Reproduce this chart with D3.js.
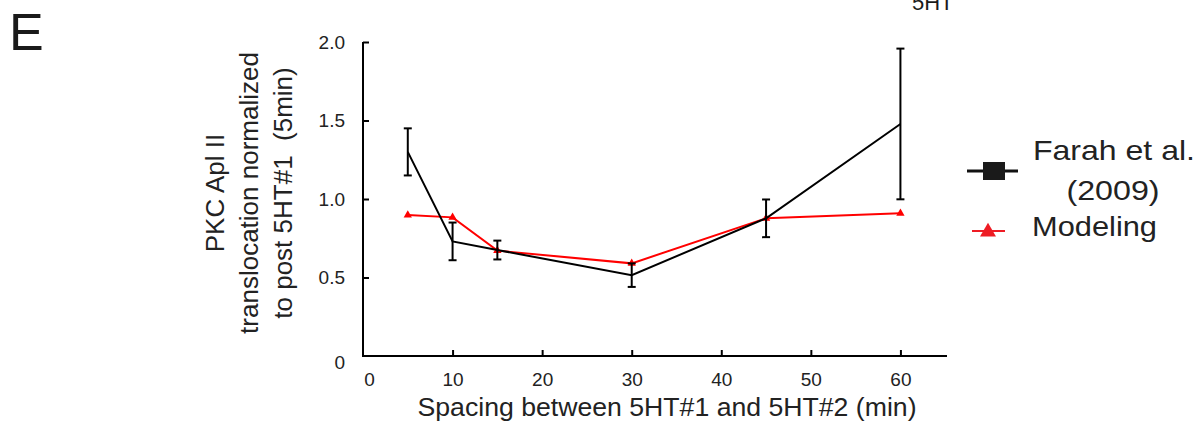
<!DOCTYPE html>
<html>
<head>
<meta charset="utf-8">
<script src="https://cdn.jsdelivr.net/npm/d3@7"></script>
<style>
  body { margin: 0; background: #fff; }
  svg { font-family: "Liberation Sans", Arial, sans-serif; }
</style>
</head>
<body>
<svg id="chart" width="1199" height="425"></svg>
<script>
// spacing between the two 5HT pulses (min)
var spacing = [5, 10, 15, 30, 45, 60];
// Farah et al. (2009) experimental means and error
var farahMean = [1.30, 0.73, 0.675, 0.515, 0.877, 1.478];
var farahErr = [0.15, 0.12, 0.06, 0.075, 0.12, 0.48];
// model output
var modelVals = [0.898, 0.883, 0.671, 0.590, 0.877, 0.909];
var xTicks = [0, 10, 20, 30, 40, 50, 60];
var yTicks = [0, 0.5, 1.0, 1.5, 2.0];

var svg = d3.select("#chart");
var x = d3.scaleLinear().domain([0, 65.2]).range([363, 947]);
var y = d3.scaleLinear().domain([0, 2]).range([356, 42]);

var farah = spacing.map(function(s, i) { return {x: s, m: farahMean[i], e: farahErr[i]}; });
var model = spacing.map(function(s, i) { return {x: s, v: modelVals[i]}; });

// panel letter
svg.append("text").attr("x", 9).attr("y", 50)
  .style("font-size", "52px").attr("fill", "#1a1a1a").text("E");
// clipped title of the neighbouring panel
svg.append("text").attr("x", 912).attr("y", 10)
  .style("font-size", "22px").attr("fill", "#1a1a1a").text("5HT");

// axes
var xaxis = svg.append("g").attr("transform", "translate(0,356)")
  .call(d3.axisBottom(x).tickValues(xTicks).tickSizeInner(-6).tickSizeOuter(0).tickPadding(17)
    .tickFormat(d3.format("d")));
var yaxis = svg.append("g").attr("transform", "translate(363,0)")
  .call(d3.axisLeft(y).tickValues(yTicks).tickSizeInner(-6).tickSizeOuter(0).tickPadding(18)
    .tickFormat(function(d) { return d == 0 ? "0" : d3.format(".1f")(d); }));

[xaxis, yaxis].forEach(function(a) {
  a.attr("font-size", null).attr("font-family", null);
  a.select(".domain").attr("stroke", "#000").attr("stroke-width", 2);
  a.selectAll(".tick line").attr("stroke", "#000").attr("stroke-width", 2);
  a.selectAll(".tick text").style("font-size", "19px").attr("fill", "#222");
});
// no tick mark at the corner
xaxis.selectAll(".tick").filter(function(d) { return d == 0; }).select("line").remove();
yaxis.selectAll(".tick").filter(function(d) { return d == 0; }).select("line").remove();
xaxis.selectAll(".tick").filter(function(d) { return d == 0; }).select("text").attr("dx", 6);
yaxis.selectAll(".tick").filter(function(d) { return d == 0; }).select("text").attr("dy", "0.64em");
yaxis.select(".domain").attr("d", "M0," + y(2) + "V" + (y(0) + 1));
xaxis.select(".domain").attr("d", "M" + (x(0) - 1) + ",0H" + x(65.2));

// axis titles
svg.append("text").attr("x", 667).attr("y", 416).attr("text-anchor", "middle")
  .style("font-size", "25px").attr("fill", "#222")
  .attr("textLength", 499).attr("lengthAdjust", "spacingAndGlyphs")
  .text("Spacing between 5HT#1 and 5HT#2 (min)");

var yLines = ["PKC Apl II", "translocation normalized", "to post 5HT#1  (5min)"];
var yt = svg.append("text").attr("transform", "translate(0,193) rotate(-90)")
  .attr("text-anchor", "middle").style("font-size", "26px").attr("fill", "#222")
  .style("white-space", "pre");
yLines.forEach(function(t, i) {
  yt.append("tspan").attr("x", 0).attr("y", 224 + i * 34).text(t);
});

// model line (red)
svg.append("path").datum(model)
  .attr("d", d3.line().x(function(d) { return x(d.x); }).y(function(d) { return y(d.v); }))
  .attr("fill", "none").attr("stroke", "#ff0000").attr("stroke-width", 2);
svg.selectAll(".mark").data(model).enter().append("path")
  .attr("class", "mark")
  .attr("transform", function(d) { return "translate(" + x(d.x) + "," + y(d.v) + ")"; })
  .attr("d", d3.symbol().type(d3.symbolTriangle).size(30))
  .attr("fill", "#ff0000");

// experimental line (black) with error bars
svg.append("path").datum(farah)
  .attr("d", d3.line().x(function(d) { return x(d.x); }).y(function(d) { return y(d.m); }))
  .attr("fill", "none").attr("stroke", "#000").attr("stroke-width", 2);
var eb = svg.selectAll(".err").data(farah).enter().append("g").attr("class", "err")
  .attr("stroke", "#000").attr("stroke-width", 2);
eb.append("line")
  .attr("x1", function(d) { return x(d.x); }).attr("x2", function(d) { return x(d.x); })
  .attr("y1", function(d) { return y(d.m + d.e); }).attr("y2", function(d) { return y(d.m - d.e); });
[1, -1].forEach(function(s) {
  eb.append("line")
    .attr("x1", function(d) { return x(d.x) - 4; }).attr("x2", function(d) { return x(d.x) + 4; })
    .attr("y1", function(d) { return y(d.m + s * d.e); }).attr("y2", function(d) { return y(d.m + s * d.e); });
});

// legend
var lg = svg.append("g");
lg.append("line").attr("x1", 967).attr("x2", 1018).attr("y1", 171).attr("y2", 171)
  .attr("stroke", "#111").attr("stroke-width", 3);
lg.append("rect").attr("x", 983).attr("y", 162).attr("width", 22).attr("height", 18).attr("fill", "#1a1a1a");
lg.append("text").attr("x", 1114).attr("y", 160).attr("text-anchor", "middle")
  .style("font-size", "28px").attr("fill", "#222")
  .attr("textLength", 162).attr("lengthAdjust", "spacingAndGlyphs").text("Farah et al.");
lg.append("text").attr("x", 1113).attr("y", 200).attr("text-anchor", "middle")
  .style("font-size", "28px").attr("fill", "#222")
  .attr("textLength", 93).attr("lengthAdjust", "spacingAndGlyphs").text("(2009)");
lg.append("line").attr("x1", 972).attr("x2", 1005).attr("y1", 231).attr("y2", 231)
  .attr("stroke", "#ee1c24").attr("stroke-width", 2);
lg.append("path").attr("transform", "translate(988,232)")
  .attr("d", d3.symbol().type(d3.symbolTriangle).size(110)).attr("fill", "#ee1c24");
lg.append("text").attr("x", 1032).attr("y", 236)
  .style("font-size", "28px").attr("fill", "#222")
  .attr("textLength", 125).attr("lengthAdjust", "spacingAndGlyphs").text("Modeling");
</script>
</body>
</html>
